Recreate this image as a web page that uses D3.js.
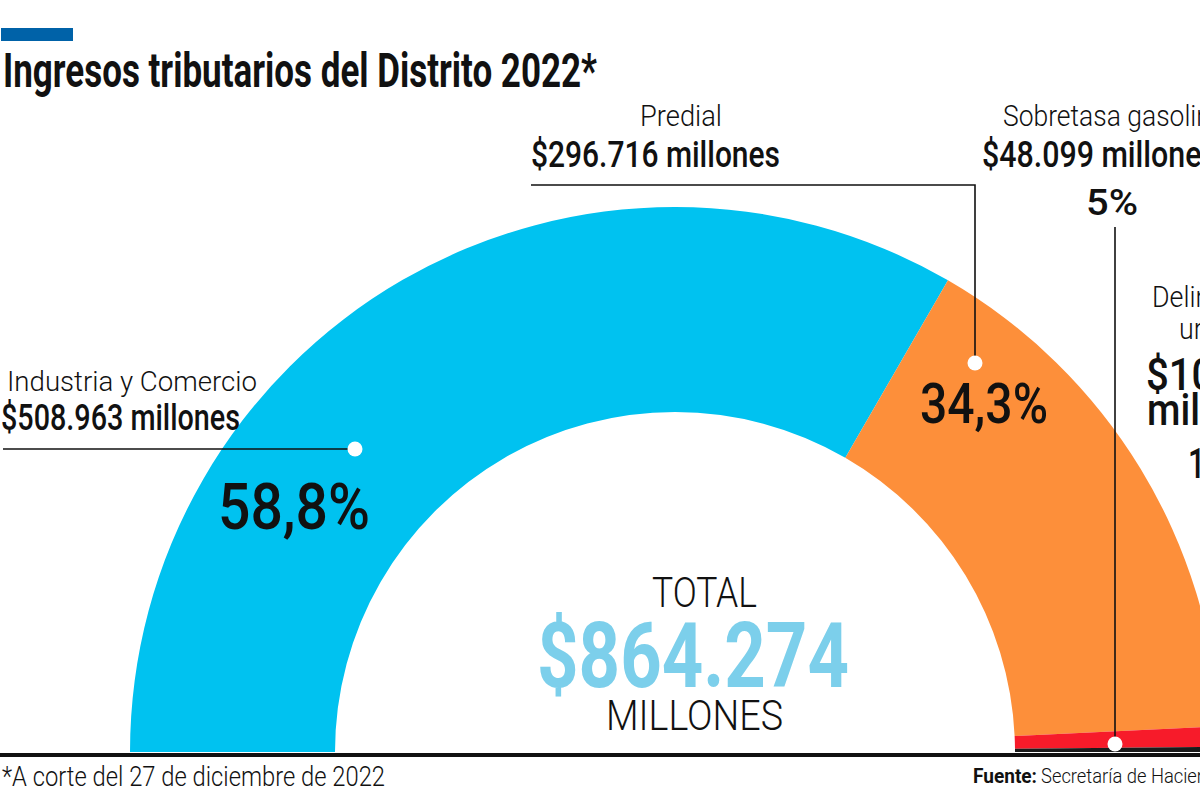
<!DOCTYPE html>
<html>
<head>
<meta charset="utf-8">
<script src="https://cdn.jsdelivr.net/npm/d3@7"></script>
<style>
  html, body { margin: 0; padding: 0; background: #fff; }
  svg { display: block; }
  text { font-family: Roboto, "Noto Sans", "DejaVu Sans", sans-serif; fill: #111; }
</style>
</head>
<body>
<svg id="chart" width="1200" height="800"></svg>
<script>
// ---------------- data ----------------
const title = "Ingresos tributarios del Distrito 2022*";
const categories = ["Industria y Comercio", "Predial", "Sobretasa gasolina", "Delineación urbana"];
const valuesMillions = [508963, 296716, 48099, 10496];
const percentLabels = ["58,8%", "34,3%", "5%", "1,2%"];
// share of the half ring that each slice occupies in the graphic
const drawnShare = [66.7, 31.8, 1.2, 0.3];
const sliceColors = ["#00c2f0", "#fd8f3a", "#f71b2a", "#1b1b1b"];
const totalMillions = 864274;
const footnote = "*A corte del 27 de diciembre de 2022";
const sourceLabel = "Fuente:";
const sourceText = "Secretaría de Hacienda";

// ---------------- helpers ----------------
const svg = d3.select("#chart");
const fmt = v => "$" + d3.format(",")(v).replace(/,/g, ".");

function txt(str, x, y, size, weight, opts = {}) {
  const t = svg.append("text")
    .attr("x", x).attr("y", y)
    .attr("font-size", size)
    .attr("font-weight", weight)
    .attr("text-anchor", opts.anchor || "start")
    .text(str);
  if (opts.width) t.attr("textLength", opts.width).attr("lengthAdjust", "spacingAndGlyphs");
  if (opts.fill) t.style("fill", opts.fill);
  return t;
}

// ---------------- header ----------------
svg.append("rect").attr("x", 1).attr("y", 28).attr("width", 72).attr("height", 13).attr("fill", "#0062a8");
txt(title, 3, 87, 48, 700, { width: 594 });

// ---------------- half donut ----------------
const cx = 675, cy = 752, rIn = 340, rOut = 545;
const pie = d3.pie().sort(null).value(d => d).startAngle(-Math.PI / 2).endAngle(Math.PI / 2);
const arc = d3.arc().innerRadius(rIn).outerRadius(rOut);
const g = svg.append("g").attr("transform", `translate(${cx},${cy})`);
g.selectAll("path").data(pie(drawnShare)).join("path")
  .attr("d", arc)
  .attr("fill", (d, i) => sliceColors[i]);

// ---------------- leader lines ----------------
const line = (pts) => svg.append("path")
  .attr("d", d3.line()(pts)).attr("fill", "none").attr("stroke", "#111").attr("stroke-width", 1.6);
line([[3, 449], [355, 449]]);
line([[531, 185], [975, 185], [975, 363]]);
line([[1115, 227], [1115, 744]]);

// baseline rule
svg.append("rect").attr("x", 0).attr("y", 753).attr("width", 1200).attr("height", 4).attr("fill", "#111");

// dots
[[355, 449], [975, 363], [1115, 744]].forEach(p =>
  svg.append("circle").attr("cx", p[0]).attr("cy", p[1]).attr("r", 7.5).attr("fill", "#fff"));

// ---------------- labels ----------------
// Industria y Comercio
txt(categories[0], 7, 391, 28, 300, { width: 250 });
txt(fmt(valuesMillions[0]) + " millones", 1, 430, 36, 500, { width: 239 });
txt(percentLabels[0], 218, 529, 64, 500, { width: 152 });

// Predial
txt(categories[1], 681, 126, 30, 300, { anchor: "middle", width: 82 });
txt(fmt(valuesMillions[1]) + " millones", 531, 167, 36, 500, { width: 249 });
txt(percentLabels[1], 920, 423, 56, 500, { width: 128 });

// Sobretasa gasolina
txt(categories[2], 1003, 126, 30, 300, { width: 222 });
txt(fmt(valuesMillions[2]) + " millones", 982, 167, 36, 500, { width: 235 });
txt(percentLabels[2], 1112, 215, 36, 500, { anchor: "middle", width: 52 });

// Delineación urbana
const delWords = categories[3].split(" ");
txt(delWords[0], 1220, 307, 30, 300, { anchor: "middle", width: 136 });
txt(delWords[1], 1220, 339, 30, 300, { anchor: "middle", width: 82 });
txt(fmt(valuesMillions[3]), 1146, 390, 44, 500, { width: 148 });
txt("millones", 1147, 425, 44, 500, { width: 146 });
txt(percentLabels[3], 1188, 478, 42, 500, { width: 64 });

// Total
txt("TOTAL", 704.5, 607, 43, 300, { anchor: "middle", width: 105 });
txt(fmt(totalMillions), 693, 687, 90, 700, { anchor: "middle", width: 312, fill: "#7ccfeb" });
txt("MILLONES", 694.5, 730, 43, 300, { anchor: "middle", width: 177 });

// ---------------- footer ----------------
txt(footnote, 2, 786, 27, 300, { width: 383 });
txt(sourceLabel, 973, 783, 21, 700, { width: 64 });
txt(sourceText, 1041, 783, 21, 300, { width: 186 });
</script>
</body>
</html>
